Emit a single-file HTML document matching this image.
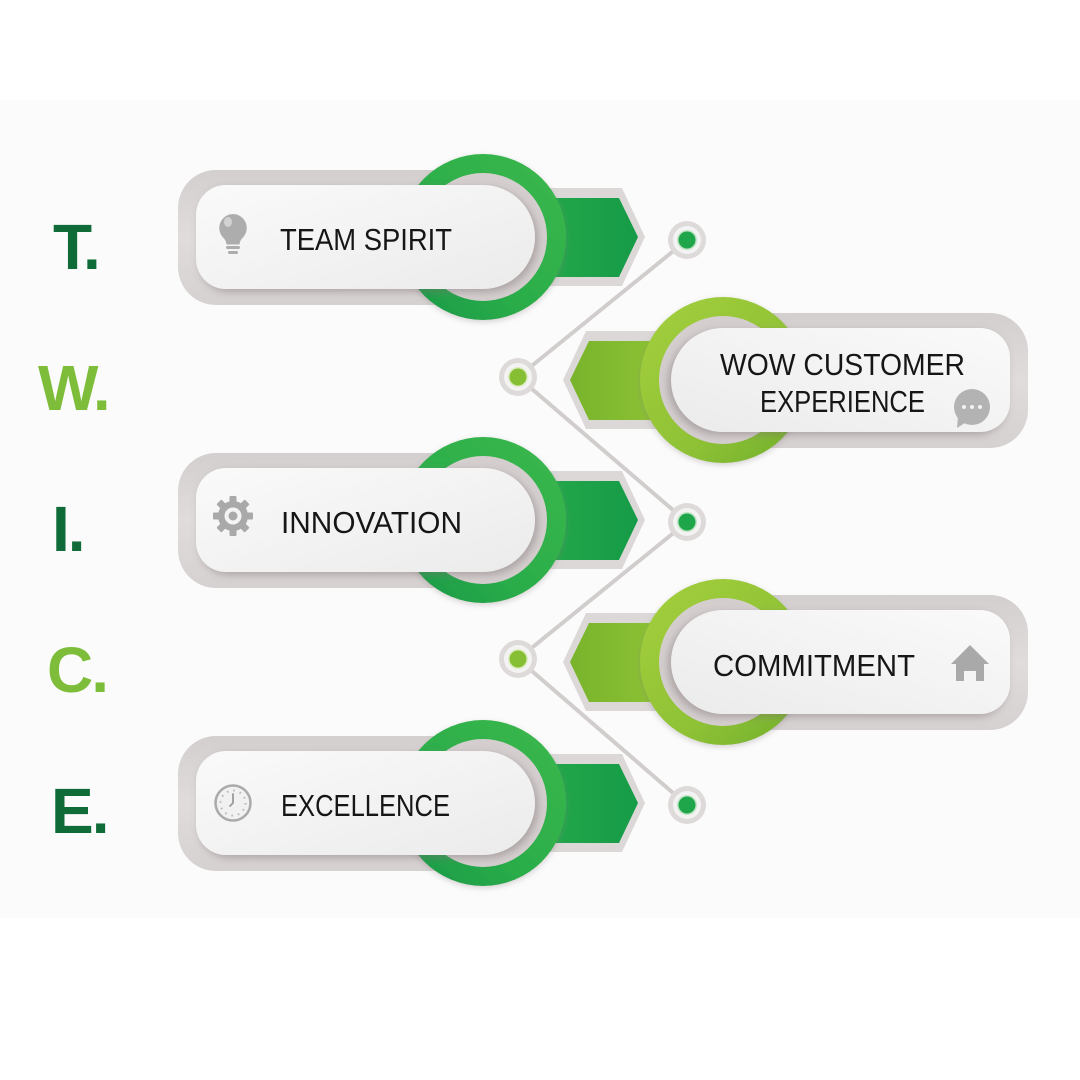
<!DOCTYPE html>
<html>
<head>
<meta charset="utf-8">
<style>
  html,body{margin:0;padding:0;background:#ffffff;}
  body{width:1080px;height:1080px;overflow:hidden;}
  svg{display:block;}
  .lbl{font-family:"Liberation Sans",Arial,sans-serif;font-size:31px;fill:#161616;}
  .big{font-family:"Liberation Sans",Arial,sans-serif;font-size:64px;font-weight:bold;letter-spacing:-2px;}
</style>
</head>
<body>
<svg width="1080" height="1080" viewBox="0 0 1080 1080" xmlns="http://www.w3.org/2000/svg">
  <defs>
    <linearGradient id="frameG" x1="0" y1="0" x2="0" y2="1">
      <stop offset="0" stop-color="#d4cfcf"/>
      <stop offset="0.5" stop-color="#e0dcdc"/>
      <stop offset="1" stop-color="#d6d1d1"/>
    </linearGradient>
    <linearGradient id="pillG" x1="0" y1="0" x2="1" y2="1">
      <stop offset="0" stop-color="#fafafa"/>
      <stop offset="1" stop-color="#ebebeb"/>
    </linearGradient>
    <linearGradient id="ringDG" x1="1" y1="0" x2="0" y2="1">
      <stop offset="0" stop-color="#3cb84d"/>
      <stop offset="0.6" stop-color="#2aad4a"/>
      <stop offset="1" stop-color="#179646"/>
    </linearGradient>
    <linearGradient id="tabDG" x1="0" y1="0" x2="1" y2="0">
      <stop offset="0" stop-color="#2cb04b"/>
      <stop offset="1" stop-color="#169b48"/>
    </linearGradient>
    <linearGradient id="ringLG" x1="1" y1="0" x2="0" y2="1">
      <stop offset="0" stop-color="#a4cf3c"/>
      <stop offset="0.6" stop-color="#8fc236"/>
      <stop offset="1" stop-color="#6fae2a"/>
    </linearGradient>
    <linearGradient id="tabLG" x1="0" y1="0" x2="1" y2="0">
      <stop offset="0" stop-color="#9ccb3a"/>
      <stop offset="1" stop-color="#78b42c"/>
    </linearGradient>
    <filter id="sh" x="-20%" y="-30%" width="140%" height="160%">
      <feDropShadow dx="3" dy="3" stdDeviation="4" flood-color="#7a7070" flood-opacity="0.45"/>
    </filter>
    <filter id="sh2" x="-20%" y="-30%" width="140%" height="160%">
      <feDropShadow dx="0" dy="2" stdDeviation="3" flood-color="#8a8080" flood-opacity="0.35"/>
    </filter>

    <g id="itemD">
      <rect x="178" y="-67" width="305" height="135" rx="38" fill="url(#frameG)"/>
      <polygon points="483,-49 622,-49 645,0 622,49 483,49" fill="#dcd8d8"/>
      <polygon points="483,-39 619,-39 638,0 619,40 483,40" fill="url(#tabDG)"/>
      <circle cx="483" cy="0" r="83" fill="url(#ringDG)" filter="url(#sh2)"/>
      <circle cx="483" cy="0" r="64" fill="#d4cece"/>
      <path d="M226,-52 H483 A52,52 0 0 1 483,52 H226 A30,30 0 0 1 196,22 V-22 A30,30 0 0 1 226,-52 Z" fill="url(#pillG)" filter="url(#sh)"/>
    </g>
    <g id="itemL">
      <rect x="178" y="-67" width="305" height="135" rx="38" fill="url(#frameG)"/>
      <polygon points="483,-49 620,-49 643,0 620,49 483,49" fill="#dcd8d8"/>
      <polygon points="483,-39 617,-39 636,0 617,40 483,40" fill="url(#tabLG)"/>
      <circle cx="483" cy="0" r="83" fill="url(#ringLG)" filter="url(#sh2)"/>
      <circle cx="483" cy="0" r="64" fill="#d4cece"/>
      <path d="M226,-52 H483 A52,52 0 0 1 483,52 H226 A30,30 0 0 1 196,22 V-22 A30,30 0 0 1 226,-52 Z" fill="url(#pillG)" filter="url(#sh)"/>
    </g>
  </defs>

  <!-- background band -->
  <rect x="0" y="100" width="1080" height="818" fill="#fbfbfb"/>

  <!-- connector lines -->
  <g stroke="#d2cdcd" stroke-width="4" stroke-linecap="round" fill="none">
    <line x1="687" y1="240" x2="518" y2="377"/>
    <line x1="518" y1="377" x2="687" y2="522"/>
    <line x1="687" y1="522" x2="518" y2="659"/>
    <line x1="518" y1="659" x2="687" y2="805"/>
  </g>

  <!-- dots -->
  <g>
    <circle cx="687" cy="240" r="19" fill="#dfdada"/>
    <circle cx="687" cy="240" r="14" fill="#f4f3f3"/>
    <circle cx="687" cy="240" r="10" fill="#bfe3c4"/>
    <circle cx="687" cy="240" r="8.5" fill="#1fa64a"/>

    <circle cx="518" cy="377" r="19" fill="#dfdada"/>
    <circle cx="518" cy="377" r="14" fill="#f4f3f3"/>
    <circle cx="518" cy="377" r="10" fill="#dcecc0"/>
    <circle cx="518" cy="377" r="8.5" fill="#86bf33"/>

    <circle cx="687" cy="522" r="19" fill="#dfdada"/>
    <circle cx="687" cy="522" r="14" fill="#f4f3f3"/>
    <circle cx="687" cy="522" r="10" fill="#bfe3c4"/>
    <circle cx="687" cy="522" r="8.5" fill="#1fa64a"/>

    <circle cx="518" cy="659" r="19" fill="#dfdada"/>
    <circle cx="518" cy="659" r="14" fill="#f4f3f3"/>
    <circle cx="518" cy="659" r="10" fill="#dcecc0"/>
    <circle cx="518" cy="659" r="8.5" fill="#86bf33"/>

    <circle cx="687" cy="805" r="19" fill="#dfdada"/>
    <circle cx="687" cy="805" r="14" fill="#f4f3f3"/>
    <circle cx="687" cy="805" r="10" fill="#bfe3c4"/>
    <circle cx="687" cy="805" r="8.5" fill="#1fa64a"/>
  </g>

  <!-- items -->
  <use href="#itemD" transform="translate(0,237)"/>
  <use href="#itemL" transform="translate(1206,380) scale(-1,1)"/>
  <use href="#itemD" transform="translate(0,520)"/>
  <use href="#itemL" transform="translate(1206,662) scale(-1,1)"/>
  <use href="#itemD" transform="translate(0,803)"/>

  <!-- big letters -->
  <text class="big" x="53" y="269" fill="#0f6c38">T.</text>
  <text class="big" x="38" y="410" fill="#7dbd3a">W.</text>
  <text class="big" x="52" y="551" fill="#0f6c38">I.</text>
  <text class="big" x="47" y="692" fill="#7dbd3a">C.</text>
  <text class="big" x="51" y="833" fill="#0f6c38">E.</text>

  <!-- labels -->
  <text class="lbl" x="280" y="250" textLength="172" lengthAdjust="spacingAndGlyphs">TEAM SPIRIT</text>
  <text class="lbl" x="720" y="375" textLength="245" lengthAdjust="spacingAndGlyphs">WOW CUSTOMER</text>
  <text class="lbl" x="760" y="412" textLength="165" lengthAdjust="spacingAndGlyphs">EXPERIENCE</text>
  <text class="lbl" x="281" y="533" textLength="181" lengthAdjust="spacingAndGlyphs">INNOVATION</text>
  <text class="lbl" x="713" y="676" textLength="202" lengthAdjust="spacingAndGlyphs">COMMITMENT</text>
  <text class="lbl" x="281" y="816" textLength="169" lengthAdjust="spacingAndGlyphs">EXCELLENCE</text>

  <!-- bulb icon -->
  <g fill="#adadad">
    <path d="M233,214 a14,14 0 0 1 9,24.5 q-2,2 -2.5,6 h-13 q-0.5,-4 -2.5,-6 A14,14 0 0 1 233,214 Z"/>
    <ellipse cx="228" cy="222" rx="4" ry="5" fill="#d2d2d2"/>
    <rect x="226" y="246" width="14" height="3" rx="1.5"/>
    <rect x="228" y="251" width="10" height="3" rx="1.5"/>
  </g>

  <!-- gear icon -->
  <g transform="translate(233,516)" fill="#a9a9a9">
    <circle r="15"/>
    <g>
      <rect x="-3.5" y="-20" width="7" height="8" rx="1"/>
      <rect x="-3.5" y="-20" width="7" height="8" rx="1" transform="rotate(45)"/>
      <rect x="-3.5" y="-20" width="7" height="8" rx="1" transform="rotate(90)"/>
      <rect x="-3.5" y="-20" width="7" height="8" rx="1" transform="rotate(135)"/>
      <rect x="-3.5" y="-20" width="7" height="8" rx="1" transform="rotate(180)"/>
      <rect x="-3.5" y="-20" width="7" height="8" rx="1" transform="rotate(225)"/>
      <rect x="-3.5" y="-20" width="7" height="8" rx="1" transform="rotate(270)"/>
      <rect x="-3.5" y="-20" width="7" height="8" rx="1" transform="rotate(315)"/>
    </g>
    <circle r="8.5" fill="#f4f4f4"/>
    <circle r="4.5" fill="#a9a9a9"/>
  </g>

  <!-- clock icon -->
  <g transform="translate(233,803)">
    <circle r="17.5" fill="#f1f1f1" stroke="#aaaaaa" stroke-width="2.5"/>
    <circle r="12.5" fill="none" stroke="#b5b5b5" stroke-width="2" stroke-dasharray="1.5 5.04"/>
    <path d="M0,0 V-9 M0,0 L-3,3" stroke="#9a9a9a" stroke-width="1.8" fill="none" stroke-linecap="round"/>
  </g>

  <!-- chat icon -->
  <g fill="#b3b3b3">
    <circle cx="972" cy="407" r="18"/>
    <path d="M958,416 L957,428 L968,421 Z"/>
    <circle cx="964" cy="407" r="2" fill="#f2f2f2"/>
    <circle cx="972" cy="407" r="2" fill="#f2f2f2"/>
    <circle cx="980" cy="407" r="2" fill="#f2f2f2"/>
  </g>

  <!-- house icon -->
  <g fill="#a9a9a9">
    <polygon points="951,664 970,645 989,664"/>
    <path d="M956,662 H984 V681 H976 V671 H964 V681 H956 Z"/>
  </g>
</svg>
</body>
</html>
